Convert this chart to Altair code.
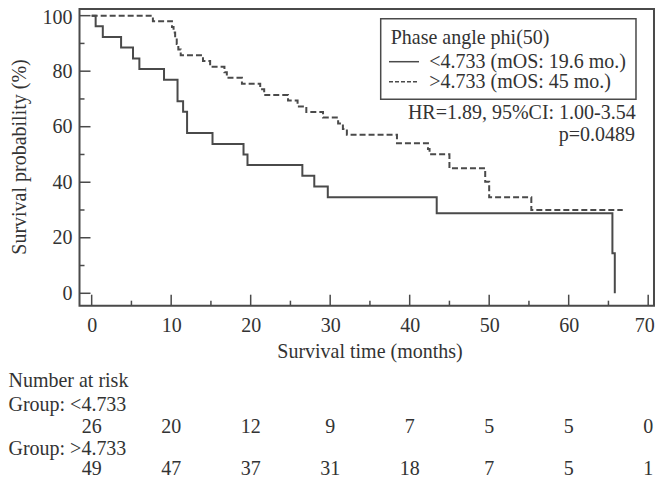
import altair as alt
import pandas as pd

# ---- data ----
lo_time = [0, 0.5, 1.4, 3.7, 5.2, 6.0, 9.1, 10.8, 11.5, 12.0, 15.2, 19.1, 19.6,
           26.5, 28.0, 29.7, 43.4, 65.5, 65.8]
lo_surv = [100, 96.2, 92.3, 88.5, 84.6, 80.8, 76.9, 69.2, 65.4, 57.7, 53.8, 50.0, 46.2,
           42.3, 38.5, 34.6, 28.8, 14.4, 0]
hi_time = [0, 7.7, 10.1, 10.3, 10.5, 10.7, 10.9, 11.2, 14.0, 14.9, 16.7, 17.0, 18.9,
           21.2, 21.7, 24.7, 25.9, 27.0, 29.1, 31.0, 31.6, 32.1, 38.4, 42.3, 42.5,
           45.0, 49.5, 50.0, 55.3, 66.8]
hi_surv = [100, 98.0, 95.9, 93.9, 91.8, 89.8, 87.8, 85.7, 83.7, 81.6, 79.6, 77.6, 75.5,
           73.5, 71.4, 69.4, 67.3, 65.3, 63.3, 61.2, 59.2, 57.1, 54.0, 52.0, 50.1,
           45.0, 40.2, 34.6, 30.0, 30.0]

x_major = [0, 10, 20, 30, 40, 50, 60, 70]
x_minor = [5, 15, 25, 35, 45, 55, 65]
y_major = [0, 20, 40, 60, 80, 100]
y_minor = [10, 30, 50, 70, 90]

risk_times = [0, 10, 20, 30, 40, 50, 60, 70]
risk_lo = [26, 20, 12, 9, 7, 5, 5, 0]
risk_hi = [49, 47, 37, 31, 18, 7, 5, 1]

legend_title = "Phase angle phi(50)"
legend_lo = "<4.733 (mOS: 19.6 mo.)"
legend_hi = ">4.733 (mOS: 45 mo.)"
hr_text = "HR=1.89, 95%CI: 1.00-3.54"
p_text = "p=0.0489"
x_title = "Survival time (months)"
y_title = "Survival probability (%)"
risk_title = "Number at risk"
group_lo = "Group: <4.733"
group_hi = "Group: >4.733"

# ---- style ----
FONT = "Liberation Serif"
FS = 20
TXT = "#333333"
LINE = "#4a4a4a"
W, H = 574.5, 296.7

xs = alt.Scale(domain=[-1.53, 70.73], nice=False, zero=False)
ys = alt.Scale(domain=[-4.47, 102.4], nice=False, zero=False)

x_axis = alt.Axis(values=x_major, title=None, ticks=False, tickSize=0,
                  domain=False, grid=False, labelPadding=10, format="d",
                  labelFont=FONT, labelFontSize=FS, labelColor=TXT,
                  labelOffset={"condition": {"test": "datum.value == 70", "value": -4},
                               "value": 0})
y_axis = alt.Axis(values=y_major, title=None, ticks=False, tickSize=0,
                  domain=False, grid=False, labelPadding=7.5, format="d",
                  labelFont=FONT, labelFontSize=FS, labelColor=TXT,
                  labelOffset={"condition": {"test": "datum.value == 100", "value": 2},
                               "value": 0})
x_enc = alt.X("t:Q", scale=xs, axis=x_axis)
y_enc = alt.Y("s:Q", scale=ys, axis=y_axis)

lo_df = pd.DataFrame({"t": lo_time, "s": lo_surv})
hi_df = pd.DataFrame({"t": hi_time, "s": hi_surv})

lo_line = alt.Chart(lo_df).mark_line(interpolate="step-after", color=LINE,
                                     strokeWidth=2).encode(x=x_enc, y=y_enc)
hi_line = alt.Chart(hi_df).mark_line(interpolate="step-after", color=LINE,
                                     strokeWidth=2, strokeDash=[6, 3]).encode(
    x=x_enc, y=y_enc)

# inward ticks
xmaj = alt.Chart(pd.DataFrame({"t": x_major})).mark_rule(color=LINE, strokeWidth=1.5).encode(
    x=x_enc, y=alt.value(H), y2=alt.value(H - 11))
xmin = alt.Chart(pd.DataFrame({"t": x_minor})).mark_rule(color=LINE, strokeWidth=1.5).encode(
    x=x_enc, y=alt.value(H), y2=alt.value(H - 5))
ymaj = alt.Chart(pd.DataFrame({"s": y_major})).mark_rule(color=LINE, strokeWidth=1.5).encode(
    y=y_enc, x=alt.value(0), x2=alt.value(11))
ymin = alt.Chart(pd.DataFrame({"s": y_minor})).mark_rule(color=LINE, strokeWidth=1.5).encode(
    y=y_enc, x=alt.value(0), x2=alt.value(5))

# plot frame
one = pd.DataFrame({"a": [0]})
frame = alt.Chart(one).mark_rect(fill="white", fillOpacity=0, stroke=LINE,
                                 strokeWidth=2).encode(
    x=alt.value(0), x2=alt.value(W), y=alt.value(0), y2=alt.value(H))


def txt(label, x, y, align="left", angle=0):
    return alt.Chart(pd.DataFrame({"label": [label]})).mark_text(
        font=FONT, fontSize=FS, color=TXT, align=align, baseline="middle",
        angle=angle).encode(text="label:N", x=alt.value(x), y=alt.value(y))


legend_box = alt.Chart(one).mark_rect(fill="white", fillOpacity=0, stroke=LINE,
                                      strokeWidth=1.5).encode(
    x=alt.value(301.2), x2=alt.value(556.5), y=alt.value(9.7), y2=alt.value(90.3))
leg_solid = alt.Chart(one).mark_rule(color=LINE, strokeWidth=1.5).encode(
    x=alt.value(309.5), x2=alt.value(339.5), y=alt.value(52.7))
leg_dash = alt.Chart(one).mark_rule(color=LINE, strokeWidth=1.5, strokeDash=[4, 2]).encode(
    x=alt.value(309.5), x2=alt.value(339.5), y=alt.value(72.7))

texts = [
    txt(legend_title, 311.2, 29.3),
    txt(legend_lo, 349.8, 52.7),
    txt(legend_hi, 349.8, 72.7),
    txt(hr_text, 556.2, 104.3, "right"),
    txt(p_text, 555.5, 126, "right"),
    txt(x_title, 290.5, 343, "center"),
    txt(y_title, -60, 148, "center", 270),
    txt(risk_title, -71, 372),
    txt(group_lo, -71, 396),
    txt(group_hi, -71, 440),
]

risk_lo_layer = alt.Chart(pd.DataFrame({"t": risk_times, "n": risk_lo})).mark_text(
    font=FONT, fontSize=FS, color=TXT, baseline="middle").encode(
    x=x_enc, y=alt.value(418), text="n:Q")
risk_hi_layer = alt.Chart(pd.DataFrame({"t": risk_times, "n": risk_hi})).mark_text(
    font=FONT, fontSize=FS, color=TXT, baseline="middle").encode(
    x=x_enc, y=alt.value(460), text="n:Q")

chart = alt.layer(
    lo_line, hi_line, xmaj, xmin, ymaj, ymin, frame, legend_box, leg_solid, leg_dash,
    *texts, risk_lo_layer, risk_hi_layer
).properties(
    width=W, height=H,
    autosize=alt.AutoSizeParams(type="none"),
    padding={"left": 71.5, "top": 1, "right": 1, "bottom": 173},
    background="white",
).configure_view(
    stroke=None
)

chart.save("out.html", embed_options={"renderer": "svg", "actions": False})
